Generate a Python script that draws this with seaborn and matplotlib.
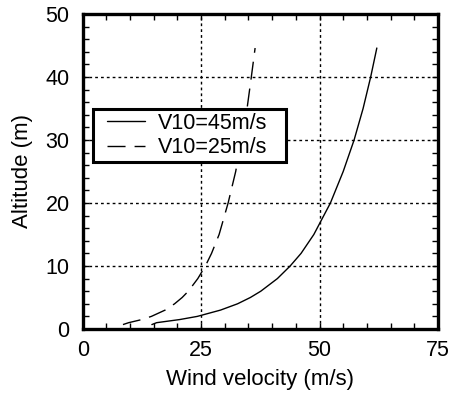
import matplotlib
matplotlib.use("Agg")
import matplotlib.pyplot as plt
import seaborn as sns
import pandas as pd
from matplotlib.ticker import MultipleLocator
from matplotlib.legend_handler import HandlerLine2D

# Data
altitude = [0.7, 1, 1.5, 2, 3, 4, 5, 6, 8, 10, 12, 15, 20, 25, 30, 35, 40, 44.6]
v45 = [14.6, 15.6, 20.5, 24.2, 29.1, 32.7, 35.4, 37.6, 41.1, 43.8, 46.1, 48.8, 52.3, 55.0, 57.3, 59.2, 60.8, 62.1]
v25 = [8.5, 9.7, 12.5, 14.5, 17.4, 19.4, 21.0, 22.3, 24.3, 25.9, 27.2, 28.8, 30.7, 32.3, 33.5, 34.7, 35.6, 36.4]
labels = ["V10=45m/s", "V10=25m/s"]
x_ticks = [0, 25, 50, 75]
y_ticks = [0, 10, 20, 30, 40, 50]


class ShiftedLineHandler(HandlerLine2D):
    """Legend line handle drawn with extra left padding."""
    shift = 7.0  # points

    def create_artists(self, legend, orig_handle, xdescent, ydescent, width, height,
                       fontsize, trans):
        return super().create_artists(legend, orig_handle, xdescent - self.shift, ydescent,
                                      width - self.shift, height, fontsize, trans)


sns.set_theme(style="white")
plt.rcParams["font.family"] = ["Liberation Sans", "DejaVu Sans"]

fig = plt.figure(figsize=(4.51, 3.98), dpi=100)
ax = fig.add_axes([0.1834, 0.1734, 0.971 - 0.1834, 0.9648 - 0.1734])

df45 = pd.DataFrame({"v": v45, "z": altitude})
df25 = pd.DataFrame({"v": v25, "z": altitude})
sns.lineplot(data=df45, x="v", y="z", ax=ax, color="black", lw=1.0, sort=False, label=labels[0])
sns.lineplot(data=df25, x="v", y="z", ax=ax, color="black", lw=1.0, sort=False, label=labels[1])
ax.lines[1].set_dashes([13, 6.5])

ax.set_xlim(0, 75)
ax.set_ylim(0, 50)
ax.set_xticks(x_ticks)
ax.set_yticks(y_ticks)
ax.xaxis.set_minor_locator(MultipleLocator(5))
ax.yaxis.set_minor_locator(MultipleLocator(2))

for xv in [25, 50]:
    ax.axvline(xv, color="black", lw=1.0, ls=(0, (2, 2.2)), zorder=0.5)
for yv in [10, 20, 30, 40]:
    ax.axhline(yv, color="black", lw=1.0, ls=(0, (2, 2.2)), zorder=0.5)

for s in ax.spines.values():
    s.set_linewidth(2.4)
    s.set_color("black")

ax.tick_params(which="both", direction="in", top=True, right=True, bottom=True, left=True,
               color="black", width=1.0)
ax.tick_params(which="major", length=4, labelsize=15.5, labelcolor="black")
ax.tick_params(axis="y", which="major", pad=9.5)
ax.tick_params(axis="x", which="major", pad=8)
ax.tick_params(which="minor", length=4)

ax.set_xlabel("Wind velocity (m/s)", fontsize=16, color="black", labelpad=6)
ax.set_ylabel("Altitude (m)", fontsize=16, color="black", labelpad=9)

handles, _ = ax.get_legend_handles_labels()
leg = ax.legend(handles, labels, loc="upper left", bbox_to_anchor=(0.03, 0.5, 0.542, 0.2),
                mode="expand", borderaxespad=0, fontsize=15.5, frameon=True, fancybox=False,
                handlelength=2.22, handletextpad=0.6, labelspacing=0.15, borderpad=0.2,
                handler_map={h: ShiftedLineHandler() for h in handles})
leg.get_frame().set_edgecolor("black")
leg.get_frame().set_linewidth(2.2)
leg.get_frame().set_alpha(1)
for t in leg.get_texts():
    t.set_color("black")

fig.savefig("out.png", dpi=100)
